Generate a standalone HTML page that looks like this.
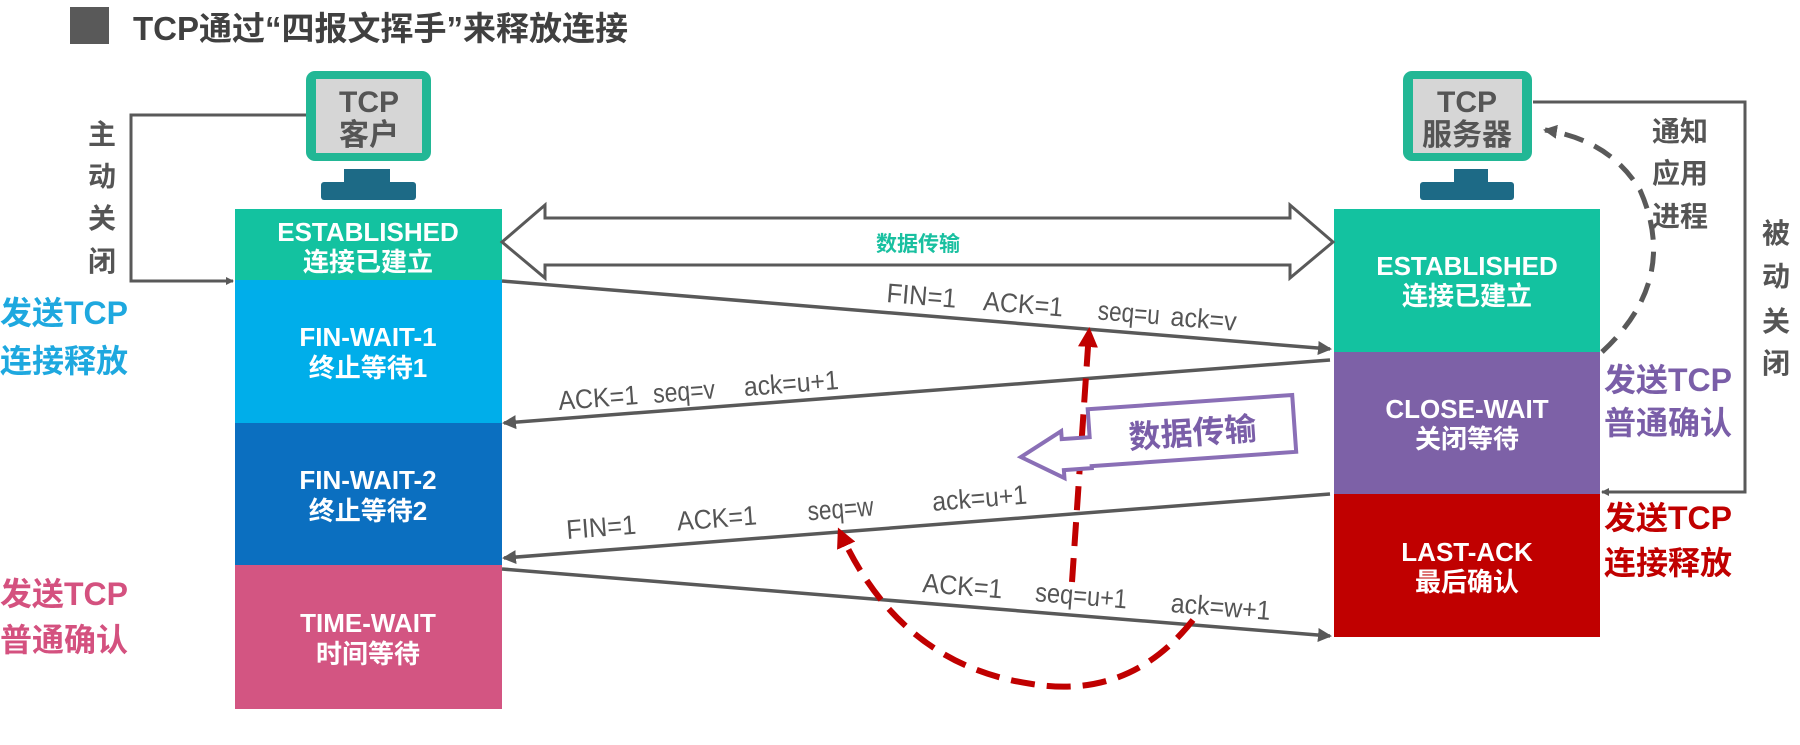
<!DOCTYPE html>
<html><head><meta charset="utf-8"><style>
html,body{margin:0;padding:0;background:#fff;}
svg{display:block;}
text{font-family:"Liberation Sans","Noto Sans CJK SC",sans-serif;}
.w{fill:#fff;font-weight:bold;font-size:26px;text-anchor:middle;}
.l{fill:#555;font-size:27px;}
</style></head><body>
<svg width="1800" height="745" viewBox="0 0 1800 745" xmlns="http://www.w3.org/2000/svg">
<defs>
<marker id="ag" markerWidth="8" markerHeight="8" refX="7" refY="4" orient="auto" markerUnits="userSpaceOnUse"><path d="M0,0 L8,4 L0,8 z" fill="#595959"/></marker>
<marker id="ag2" markerWidth="14" markerHeight="14" refX="12" refY="7" orient="auto" markerUnits="userSpaceOnUse"><path d="M0,0 L14,7 L0,14 z" fill="#595959"/></marker>
<marker id="ar" markerWidth="20" markerHeight="20" refX="15" refY="10" orient="auto" markerUnits="userSpaceOnUse"><path d="M0,0 L20,10 L0,20 z" fill="#c00000"/></marker>
</defs>
<rect x="70" y="7" width="39" height="37" fill="#595959"/>
<text x="133" y="40" font-size="33" font-weight="bold" fill="#404040">TCP通过“四报文挥手”来释放连接</text>

<rect x="306" y="71" width="125" height="90" rx="9" fill="#22b795"/>
<rect x="316" y="79" width="106" height="74" fill="#d6d6d6"/>
<text x="369" y="112" font-size="30" font-weight="bold" fill="#555" text-anchor="middle">TCP</text>
<text x="369" y="145" font-size="30" font-weight="bold" fill="#555" text-anchor="middle">客户</text>
<rect x="344" y="169" width="46" height="15" fill="#1d6a86"/>
<rect x="321" y="182" width="95" height="18" rx="3" fill="#1d6a86"/>

<rect x="1403" y="71" width="129" height="90" rx="9" fill="#22b795"/>
<rect x="1413" y="79" width="109" height="74" fill="#d6d6d6"/>
<text x="1467" y="112" font-size="30" font-weight="bold" fill="#555" text-anchor="middle">TCP</text>
<text x="1467" y="145" font-size="30" font-weight="bold" fill="#555" text-anchor="middle">服务器</text>
<rect x="1454" y="169" width="34" height="15" fill="#1d6a86"/>
<rect x="1420" y="182" width="94" height="18" rx="3" fill="#1d6a86"/>

<rect x="235" y="209" width="267" height="71" fill="#13c2a0"/>
<rect x="235" y="280" width="267" height="143" fill="#00aeea"/>
<rect x="235" y="423" width="267" height="142" fill="#0b6fc0"/>
<rect x="235" y="565" width="267" height="144" fill="#d35582"/>
<text class="w" x="368" y="241">ESTABLISHED</text>
<text class="w" x="368" y="271">连接已建立</text>
<text class="w" x="368" y="346">FIN-WAIT-1</text>
<text class="w" x="368" y="377">终止等待1</text>
<text class="w" x="368" y="489">FIN-WAIT-2</text>
<text class="w" x="368" y="520">终止等待2</text>
<text class="w" x="368" y="632">TIME-WAIT</text>
<text class="w" x="368" y="663">时间等待</text>

<rect x="1334" y="209" width="266" height="143" fill="#13c2a0"/>
<rect x="1334" y="352" width="266" height="142" fill="#7d61a7"/>
<rect x="1334" y="494" width="266" height="143" fill="#c00000"/>
<text class="w" x="1467" y="275">ESTABLISHED</text>
<text class="w" x="1467" y="305">连接已建立</text>
<text class="w" x="1467" y="418">CLOSE-WAIT</text>
<text class="w" x="1467" y="448">关闭等待</text>
<text class="w" x="1467" y="561">LAST-ACK</text>
<text class="w" x="1467" y="591">最后确认</text>

<polyline points="306,115 131,115 131,281 233,281" fill="none" stroke="#595959" stroke-width="3" marker-end="url(#ag)"/>
<g font-size="28" font-weight="bold" fill="#555" text-anchor="middle">
<text x="102" y="144">主</text><text x="102" y="186">动</text><text x="102" y="228">关</text><text x="102" y="271">闭</text>
</g>
<polyline points="1533,102 1745,102 1745,492 1602,492" fill="none" stroke="#595959" stroke-width="3" marker-end="url(#ag)"/>
<g font-size="28" font-weight="bold" fill="#555" text-anchor="middle">
<text x="1776" y="243">被</text><text x="1776" y="286">动</text><text x="1776" y="331">关</text><text x="1776" y="373">闭</text>
<text x="1680" y="141">通知</text><text x="1680" y="183">应用</text><text x="1680" y="226">进程</text>
</g>

<g font-size="32" font-weight="bold">
<text x="0" y="324" fill="#1ea8df">发送TCP</text>
<text x="0" y="372" fill="#1ea8df">连接释放</text>
<text x="0" y="605" fill="#d4517f">发送TCP</text>
<text x="0" y="651" fill="#d4517f">普通确认</text>
<text x="1604" y="391" fill="#7a5ea8">发送TCP</text>
<text x="1604" y="434" fill="#7a5ea8">普通确认</text>
<text x="1604" y="529" fill="#c00000">发送TCP</text>
<text x="1604" y="574" fill="#c00000">连接释放</text>
</g>

<path d="M502,242 L545,205 L545,218 L1290,218 L1290,205 L1333,242 L1290,278 L1290,265 L545,265 L545,278 Z" fill="#fff" stroke="#595959" stroke-width="3"/>
<text x="918" y="251" font-size="21" font-weight="bold" fill="#19c0a0" text-anchor="middle">数据传输</text>

<path d="M1602,352 Q1680,280 1640,190 Q1610,140 1545,130" fill="none" stroke="#595959" stroke-width="5" stroke-dasharray="20,12" marker-end="url(#ag2)"/>

<g stroke="#595959" stroke-width="3.5" fill="none">
<line x1="502" y1="281" x2="1330" y2="349" marker-end="url(#ag2)"/>
<line x1="1330" y1="360" x2="504" y2="423" marker-end="url(#ag2)"/>
<line x1="1330" y1="494" x2="504" y2="558" marker-end="url(#ag2)"/>
<line x1="502" y1="569" x2="1330" y2="636" marker-end="url(#ag2)"/>
</g>
<g class="l" lengthAdjust="spacingAndGlyphs">
<g transform="rotate(4.7 886 302)"><text x="886" y="302" textLength="70" lengthAdjust="spacingAndGlyphs">FIN=1</text><text x="983" y="302" textLength="80" lengthAdjust="spacingAndGlyphs">ACK=1</text><text x="1098" y="302" textLength="62" lengthAdjust="spacingAndGlyphs">seq=u</text><text x="1171" y="302" textLength="66" lengthAdjust="spacingAndGlyphs">ack=v</text></g>
<g transform="rotate(-4.3 559 410)"><text x="559" y="410" textLength="80" lengthAdjust="spacingAndGlyphs">ACK=1</text><text x="654" y="410" textLength="62" lengthAdjust="spacingAndGlyphs">seq=v</text><text x="745" y="410" textLength="95" lengthAdjust="spacingAndGlyphs">ack=u+1</text></g>
<g transform="rotate(-4.4 567 539)"><text x="567" y="539" textLength="70" lengthAdjust="spacingAndGlyphs">FIN=1</text><text x="678" y="539" textLength="80" lengthAdjust="spacingAndGlyphs">ACK=1</text><text x="809" y="539" textLength="66" lengthAdjust="spacingAndGlyphs">seq=w</text><text x="934" y="539" textLength="95" lengthAdjust="spacingAndGlyphs">ack=u+1</text></g>
<g transform="rotate(4.6 922 592)"><text x="922" y="592" textLength="80" lengthAdjust="spacingAndGlyphs">ACK=1</text><text x="1035" y="592" textLength="92" lengthAdjust="spacingAndGlyphs">seq=u+1</text><text x="1171" y="592" textLength="100" lengthAdjust="spacingAndGlyphs">ack=w+1</text></g>
</g>

<path d="M1072,582 L1089,332" fill="none" stroke="#c00000" stroke-width="6" stroke-dasharray="24,12" marker-end="url(#ar)"/>
<path d="M1193,620 Q1130,700 1032,684 Q900,665 840,532" fill="none" stroke="#c00000" stroke-width="6" stroke-dasharray="24,12" marker-end="url(#ar)"/>

<g transform="rotate(-4 1150 440)">
<path d="M1020,448 L1062,425 L1062,433 L1090,433 L1090,405 L1295,405 L1295,462 L1090,462 L1090,464 L1062,464 L1062,472 Z" fill="#fff" stroke="#8a6fb6" stroke-width="4"/>
<text x="1193" y="447" font-size="32" font-weight="bold" fill="#7a5ea8" text-anchor="middle">数据传输</text>
</g>
</svg>
</body></html>
